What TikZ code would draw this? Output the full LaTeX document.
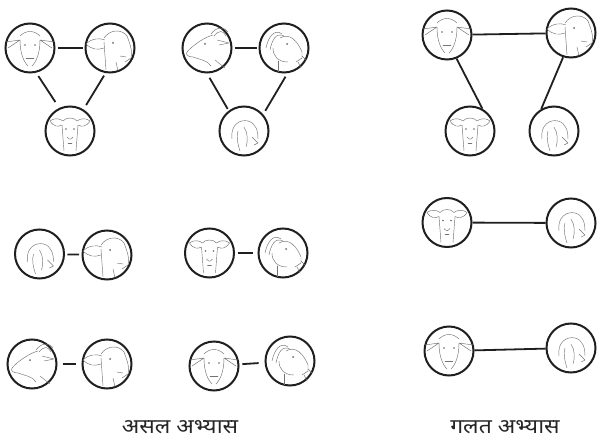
\documentclass[tikz,border=0pt]{standalone}
\usepackage{graphicx}
\usepackage{fontspec}
\newfontfamily\deva[Script=Devanagari]{Noto Sans}
\begin{document}
\begin{tikzpicture}[x=1pt,y=-1pt,
  gc/.style={circle,draw=black!88,line width=2pt,minimum size=49pt,inner sep=0pt},
  con/.style={draw=black!88,line width=1.8pt,shorten <=2pt,shorten >=2pt},
  sk/.style={draw=black!55,line width=0.45pt,line cap=round,line join=round},
  lbl/.style={font=\deva\fontsize{20.5}{22}\selectfont,text=black!85,inner sep=0pt,anchor=base},
  gside/.pic={
    \draw[sk] (-24,-4) .. controls (-18,-10) and (-10,-10) .. (-5,-8);
    \draw[sk] (-24,-4) .. controls (-18,2) and (-12,2) .. (-6,0);
    \draw[sk] (-6,-10) .. controls (0,-19) and (12,-19) .. (17,-12);
    \draw[sk] (17,-12) .. controls (20,-4) and (23,4) .. (21,10) -- (15,14);
    \draw[sk] (-6,-6) -- (-4,22);
    \draw[sk] (6,14) -- (8,23);
    \draw[sk] (10,8) -- (16,9);
    \fill[black!60] (3,-5) circle (1pt);
  },
  ghornL/.pic={
    \draw[sk] (6,-13) .. controls (-2,-11) and (-14,-3) .. (-20,4) .. controls (-22,7) and (-18,9) .. (-14,9);
    \draw[sk] (-14,9) .. controls (-6,12) and (0,12) .. (4,18);
    \draw[sk] (8,12) -- (18,20);
    \draw[sk] (4,-14) .. controls (9,-21) and (17,-22) .. (21,-16);
    \draw[sk] (7,-12) .. controls (12,-18) and (16,-18) .. (19,-12);
    \draw[sk] (10,-8) -- (22,-5) -- (12,-3);
    \fill[black!60] (-2,-4) circle (1pt);
  },
  ghornR/.pic={
    \draw[sk] (-2,-14) .. controls (-10,-20) and (-16,-10) .. (-18,0);
    \draw[sk] (0,-12) .. controls (-8,-16) and (-12,-8) .. (-14,2);
    \draw[sk] (-4,-10) .. controls (6,-16) and (14,-6) .. (18,4) -- (18,10) -- (12,14);
    \draw[sk] (-11,0) .. controls (-11,8) and (-6,14) .. (4,14);
    \draw[sk] (-6,13) -- (-6,24);
    \draw[sk] (14,14) -- (17,20) (18,8) -- (22,12);
    \fill[black!60] (3,-4) circle (1pt);
  },
  gfront/.pic={
    \draw[sk] (-20,-10) .. controls (-14,-14) and (-10,-12) .. (-7,-10);
    \draw[sk] (-20,-10) .. controls (-16,-4) and (-12,-4) .. (-8,-6);
    \draw[sk] (20,-10) .. controls (14,-14) and (10,-12) .. (7,-10);
    \draw[sk] (20,-10) .. controls (16,-4) and (12,-4) .. (8,-6);
    \draw[sk] (-7,-10) .. controls (-4,-14) and (4,-14) .. (7,-10);
    \draw[sk] (-8,-6) -- (-6,20);
    \draw[sk] (8,-6) -- (6,20);
    \draw[sk] (-3,6) .. controls (0,9) .. (3,6);
    \draw[sk] (-2,12) -- (2,12);
    \fill[black!60] (-4,-2) circle (0.9pt) (4,-2) circle (0.9pt);
  },
  gdown/.pic={
    \draw[sk] (-12,8) .. controls (-14,-6) and (-4,-12) .. (4,-10) .. controls (12,-8) and (14,0) .. (14,8);
    \draw[sk] (0,-4) .. controls (4,2) and (4,10) .. (2,16);
    \draw[sk] (-6,0) .. controls (-8,6) and (-6,14) .. (-4,20);
    \draw[sk] (8,6) -- (14,12) -- (10,14);
  },
  gwide/.pic={
    \draw[sk] (-24,-6) -- (-10,-8) -- (-22,0);
    \draw[sk] (24,-6) -- (10,-8) -- (22,0);
    \draw[sk] (-10,-12) .. controls (-4,-18) and (4,-18) .. (10,-12);
    \draw[sk] (-10,-8) .. controls (-10,6) and (-6,14) .. (-2,18);
    \draw[sk] (10,-8) .. controls (10,6) and (6,14) .. (2,18);
    \draw[sk] (-4,10) -- (4,10);
    \fill[black!60] (-5,-3) circle (0.9pt) (5,-3) circle (0.9pt);
  }
]
\useasboundingbox (0,0) rectangle (597,438);

% left triangle
\node[gc] (n1) at (30,48) {};
\node[gc] (n2) at (110,48) {};
\node[gc] (n3) at (70,131) {};
% second triangle
\node[gc] (n4) at (207,48) {};
\node[gc] (n5) at (284,48) {};
\node[gc] (n6) at (244,131) {};
% pairs
\node[gc] (n7) at (39.5,254) {};
\node[gc] (n8) at (107,255) {};
\node[gc] (n9) at (209.5,253) {};
\node[gc] (n10) at (283,253) {};
\node[gc] (n11) at (32,364) {};
\node[gc] (n12) at (107,364) {};
\node[gc] (n13) at (214,366) {};
\node[gc] (n14) at (290,361) {};
% right group
\node[gc] (ra) at (447,35) {};
\node[gc] (rb) at (571,33) {};
\node[gc] (rc) at (470,131) {};
\node[gc] (rd) at (554,131) {};
\node[gc] (ri) at (447,222.5) {};
\node[gc] (rj) at (571,223) {};
\node[gc] (rk) at (449,351) {};
\node[gc] (rl) at (571,348) {};

% sketches
\pic at (n1) {gwide};
\pic at (n2) {gside};
\pic at (n3) {gfront};
\pic at (n4) {ghornL};
\pic at (n5) {ghornR};
\pic at (n6) {gdown};
\pic at (n7) {gdown};
\pic at (n8) {gside};
\pic at (n9) {gfront};
\pic at (n10) {ghornR};
\pic at (n11) {ghornL};
\pic at (n12) {gside};
\pic at (n13) {gwide};
\pic at (n14) {ghornR};
\pic at (ra) {gwide};
\pic at (rb) {gside};
\pic at (rc) {gfront};
\pic at (rd) {gdown};
\pic at (ri) {gfront};
\pic at (rj) {gdown};
\pic at (rk) {gwide};
\pic at (rl) {gdown};

% connectors
\draw[con] (n1) -- (n2);
\draw[con,shorten <=4pt,shorten >=7pt] (n1.-76) -- (n3.115);
\draw[con,shorten <=3pt,shorten >=5pt] (n2.-100) -- (n3.58);
\draw[con] (n4) -- (n5);
\draw[con,shorten <=5pt,shorten >=2pt] (n4.-90) -- (n6.127);
\draw[con,shorten <=4pt,shorten >=4pt] (n5.-82) -- (n6.41);
\draw[con,shorten <=2.5pt,shorten >=2.5pt] (n7) -- (n8);
\draw[con,shorten <=2.5pt,shorten >=5pt] (n9) -- (n10);
\draw[con,shorten <=5pt,shorten >=6pt] (n11) -- (n12);
\draw[con,shorten <=3pt,shorten >=6pt] (n13) -- (n14);
\draw[con,shorten <=0pt,shorten >=0pt] (ra) -- (rb);
\draw[con,shorten <=0pt,shorten >=0pt] (ra.-68) -- (rc.61);
\draw[con,shorten <=0pt,shorten >=0pt] (rb.-108) -- (rd.120);
\draw[con,shorten <=0pt,shorten >=0pt] (ri) -- (rj);
\draw[con,shorten <=0pt,shorten >=0pt] (rk) -- (rl);

% labels
\node[lbl] (t1) at (180,433) {\scalebox{1.12}[1]{असल अभ्यास}};
\node[lbl] (t2) at (505,433) {\scalebox{1.12}[1]{गलत अभ्यास}};
\end{tikzpicture}
\end{document}
